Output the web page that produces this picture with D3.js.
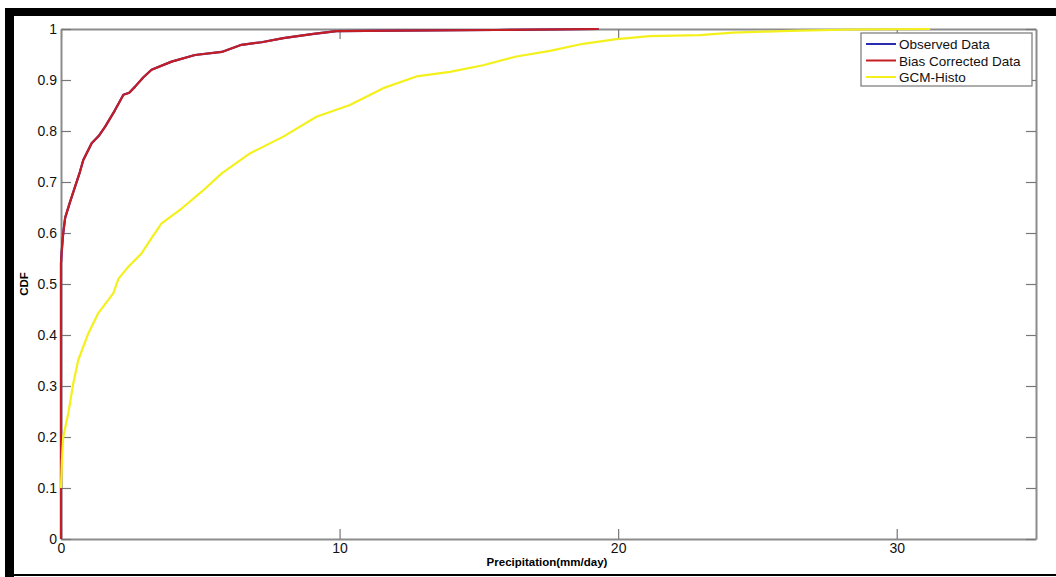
<!DOCTYPE html>
<html>
<head>
<meta charset="utf-8">
<title>CDF</title>
<script src="https://d3js.org/d3.v7.min.js"></script>
<style>
  body { margin: 0; background: #fff; }
  text { font-family: "Liberation Sans", Arial, sans-serif; }
</style>
</head>
<body>
<svg id="chart" width="1056" height="577"></svg>
<script>
// data
const seriesNames = ['Observed Data', 'Bias Corrected Data', 'GCM-Histo'];
const seriesColors = ['#2b2bb0', '#c41e24', '#f4f01c'];

const biasX = [0, 0, 0.02, 0.08, 0.15, 0.32, 0.44, 0.68, 0.80, 1.10, 1.35, 1.58, 1.94, 2.24, 2.45, 2.66, 2.95, 3.25, 3.97, 4.81, 5.77, 6.48, 7.2, 7.98, 9.0, 9.89, 12.0, 15.6, 19.3];
const biasY = [0, 0.54, 0.56, 0.60, 0.63, 0.66, 0.68, 0.72, 0.743, 0.776, 0.79, 0.808, 0.841, 0.871, 0.875, 0.887, 0.905, 0.920, 0.936, 0.949, 0.955, 0.969, 0.974, 0.982, 0.990, 0.996, 0.997, 0.998, 1.0];

// observed data sits exactly under the bias corrected curve
const obsX = biasX;
const obsY = biasY;

const gcmX = [0, 0.03, 0.08, 0.26, 0.44, 0.62, 0.98, 1.34, 1.88, 2.06, 2.42, 2.89, 3.25, 3.61, 4.33, 5.05, 5.77, 6.78, 7.98, 9.17, 10.37, 11.57, 12.76, 13.96, 15.15, 16.35, 17.55, 18.74, 19.94, 21.13, 22.93, 24.12, 25.32, 26.5, 28.5, 31.2];
const gcmY = [0.10, 0.15, 0.20, 0.246, 0.305, 0.351, 0.403, 0.443, 0.482, 0.51, 0.534, 0.560, 0.59, 0.619, 0.648, 0.681, 0.717, 0.756, 0.789, 0.828, 0.851, 0.884, 0.907, 0.916, 0.929, 0.946, 0.957, 0.971, 0.980, 0.986, 0.988, 0.993, 0.995, 0.997, 0.999, 1.0];

const xTicks = [0, 10, 20, 30];
const yTicks = [0, 0.1, 0.2, 0.3, 0.4, 0.5, 0.6, 0.7, 0.8, 0.9, 1];

const svg = d3.select('#chart');
const pLeft = 61, pRight = 1036, pTop = 29, pBottom = 539;
const axisCol = '#8c8c8c';

// black frame of the screenshot
svg.append('rect').attr('x', 5).attr('y', 8).attr('width', 1051).attr('height', 8).attr('fill', '#000');
svg.append('rect').attr('x', 5).attr('y', 8).attr('width', 9).attr('height', 569).attr('fill', '#000');
svg.append('rect').attr('x', 5).attr('y', 574).attr('width', 1051).attr('height', 2).attr('fill', '#000');

const x = d3.scaleLinear().domain([0, 35]).range([pLeft, pRight]);
const y = d3.scaleLinear().domain([0, 1]).range([pBottom, pTop]);

// axes with inward ticks, mirrored on all four sides
const gx = svg.append('g').attr('transform', `translate(0,${pBottom})`)
  .call(d3.axisBottom(x).tickValues(xTicks).tickSizeInner(-10).tickSizeOuter(0).tickPadding(4));
const gxt = svg.append('g').attr('transform', `translate(0,${pTop})`)
  .call(d3.axisTop(x).tickValues(xTicks).tickSizeInner(-10).tickSizeOuter(0).tickFormat(''));
const gy = svg.append('g').attr('transform', `translate(${pLeft},0)`)
  .call(d3.axisLeft(y).tickValues(yTicks).tickSizeInner(-10).tickSizeOuter(0).tickPadding(4)
    .tickFormat(d => d === 0 ? '0' : (d === 1 ? '1' : d3.format('.1f')(d))));
const gyr = svg.append('g').attr('transform', `translate(${pRight},0)`)
  .call(d3.axisRight(y).tickValues(yTicks).tickSizeInner(-10).tickSizeOuter(0).tickFormat(''));

[gx, gxt, gy, gyr].forEach(g => {
  g.select('.domain').attr('stroke', axisCol).attr('stroke-width', 2);
  g.selectAll('.tick line').attr('stroke', '#777').attr('stroke-width', 1.2);
  g.selectAll('.tick text').attr('fill', '#111').style('font-size', '14px')
    .style('font-family', '"Liberation Sans", Arial, sans-serif');
});

// curves
const line = d3.line().x(d => x(d[0])).y(d => y(d[1]));
const series = [
  d3.zip(obsX, obsY),
  d3.zip(biasX, biasY),
  d3.zip(gcmX, gcmY)
];
series.forEach((s, i) => {
  svg.append('path').datum(s).attr('d', line)
    .attr('fill', 'none').attr('stroke', seriesColors[i]).attr('stroke-width', 2.2)
    .attr('stroke-linejoin', 'round');
});

// axis labels
svg.append('text').attr('x', 547).attr('y', 566).attr('text-anchor', 'middle')
  .style('font-size', '11.5px').style('font-weight', 'bold').text('Precipitation(mm/day)');
svg.append('text').attr('transform', 'translate(28,284) rotate(-90)').attr('text-anchor', 'middle')
  .style('font-size', '11.5px').style('font-weight', 'bold').text('CDF');

// legend
const lg = svg.append('g');
lg.append('rect').attr('x', 861).attr('y', 33).attr('width', 171).attr('height', 53)
  .attr('fill', '#fff').attr('stroke', '#777').attr('stroke-width', 1.2);
seriesNames.forEach((n, i) => {
  const ly = 44 + i * 16.5;
  lg.append('line').attr('x1', 866).attr('x2', 896).attr('y1', ly).attr('y2', ly)
    .attr('stroke', seriesColors[i]).attr('stroke-width', 2);
  lg.append('text').attr('x', 899).attr('y', ly + 5).style('font-size', '13.5px').attr('fill', '#111').text(n);
});
</script>
</body>
</html>
